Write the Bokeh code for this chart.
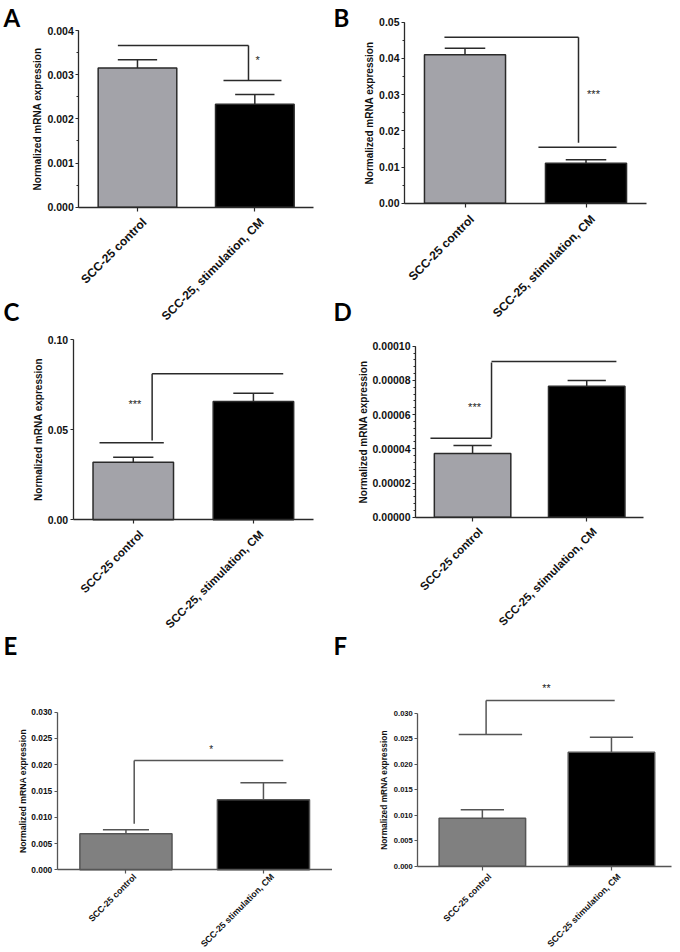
from math import pi
from bokeh.plotting import figure
from bokeh.models import Range1d, FixedTicker, PrintfTickFormatter
from bokeh.layouts import column, row
from bokeh.core.properties import value
from bokeh.embed import file_html
from bokeh.resources import INLINE

# ---------------- data ----------------
x_pos = [0.5, 1.5]
labels_abcd = ["SCC-25 control", "SCC-25, stimulation, CM"]
labels_ef = ["SCC-25 control", "SCC-25 stimulation, CM"]
y_title = "Normalized mRNA expression"

mean_A = [0.00315, 0.00233]
sem_A = [0.00019, 0.00022]
mean_B = [0.0410, 0.01105]
sem_B = [0.0018, 0.00095]
mean_C = [0.0320, 0.0657]
sem_C = [0.0028, 0.0046]
mean_D = [0.0000372, 0.0000766]
sem_D = [0.0000047, 0.0000033]
mean_E = [0.00688, 0.01332]
sem_E = [0.00072, 0.00323]
mean_F = [0.00941, 0.02235]
sem_F = [0.00165, 0.00295]

ticks_A = [0.000, 0.001, 0.002, 0.003, 0.004]
ticks_B = [0.00, 0.01, 0.02, 0.03, 0.04, 0.05]
ticks_C = [0.00, 0.05, 0.10]
ticks_D = [0.0, 0.00002, 0.00004, 0.00006, 0.00008, 0.00010]
ticks_E = [0.000, 0.005, 0.010, 0.015, 0.020, 0.025, 0.030]
ticks_F = [0.000, 0.005, 0.010, 0.015, 0.020, 0.025, 0.030]

# significance brackets: segments (x0, y0, x1, y1)
br_A = ([0.333, 1.446, 1.233], [0.00366, 0.00366, 0.00287],
        [1.446, 1.446, 1.727], [0.00366, 0.00287, 0.00287])
br_B = ([0.330, 1.438, 1.107], [0.04586, 0.04586, 0.01547],
        [1.438, 1.438, 1.752], [0.04586, 0.01668, 0.01547])
br_C = ([0.657, 0.657, 0.219], [0.0811, 0.0811, 0.0428],
        [1.748, 0.657, 0.754], [0.0811, 0.0440, 0.0428])
br_D = ([0.666, 0.666, 0.131], [0.0000910, 0.0000905, 0.0000462],
        [1.760, 0.666, 0.666], [0.0000910, 0.0000464, 0.0000462])
br_E = ([0.560, 0.560], [0.0208, 0.0208],
        [1.644, 0.560], [0.0208, 0.00875])
br_F = ([0.529, 0.529, 0.317], [0.0325, 0.0325, 0.0258],
        [1.525, 0.529, 0.808], [0.0325, 0.0258, 0.0258])

stars_A = ("*", 1.523, 0.00339)
stars_B = ("***", 1.562, 0.0309)
stars_C = ("***", 0.513, 0.0659)
stars_D = ("***", 0.517, 0.0000659)
stars_E = ("*", 1.120, 0.02346)
stars_F = ("**", 0.996, 0.0354)

# ---------------- styles ----------------
FONT = "Liberation Sans"
GRAY1 = "#a3a3a9"
GRAY2 = "#808080"


def make_panel(letters, labels, means, sems, ticks, minor_step, fmt, bracket, stars,
               w, h, frame, x_end, y_top, gray, ink, tick_fs, lab_fs, ylab_fs, star_fs, lab_off):
    # frame = pixel box (left, right, top, bottom) of the data area inside the figure
    L, R, T, B = frame
    ux = x_end / (R - L)
    uy = y_top / (B - T)
    xr = Range1d(-L * ux, x_end + (w - R) * ux)
    yr = Range1d(-(h - B) * uy, y_top + T * uy)
    p = figure(width=w, height=h, x_range=xr, y_range=yr,
               output_backend="svg", toolbar_location=None, title=None,
               min_border_left=0, min_border_right=0, min_border_top=0, min_border_bottom=0)
    p.outline_line_color = None
    p.grid.visible = False
    p.background_fill_color = "white"
    p.border_fill_color = "white"

    # bars + SEM
    p.vbar(x=x_pos, top=means, width=0.67, bottom=0, fill_color=[gray, "#000000"],
           line_color=ink, line_width=1.5)
    tops = [m + s for m, s in zip(means, sems)]
    p.segment(x0=x_pos, y0=means, x1=x_pos, y1=tops, line_color=ink, line_width=1.5)
    p.segment(x0=[x - 0.1675 for x in x_pos], y0=tops, x1=[x + 0.1675 for x in x_pos], y1=tops,
              line_color=ink, line_width=1.5)
    # significance bracket
    p.segment(x0=bracket[0], y0=bracket[1], x1=bracket[2], y1=bracket[3],
              line_color=ink, line_width=1.5)
    p.text(x=[stars[1]], y=[stars[2]], text=[stars[0]], text_align="center",
           text_baseline="middle", y_offset=2.5, text_font=value(FONT),
           text_font_size=value(star_fs), text_color="#222222")

    # y axis (drawn at x = 0)
    ya = p.yaxis[0]
    ya.fixed_location = 0
    minors = []
    if minor_step:
        n = int(round(ticks[-1] / minor_step))
        minors = [i * minor_step for i in range(n + 1)]
    ya.ticker = FixedTicker(ticks=ticks, minor_ticks=minors)
    ya.formatter = PrintfTickFormatter(format=fmt)
    ya.bounds = (0, ticks[-1])
    ya.axis_line_color = ink
    ya.axis_line_width = 1.3
    ya.major_tick_line_color = ink
    ya.minor_tick_line_color = ink
    ya.major_tick_line_width = 1.2
    ya.major_tick_out = 3
    ya.major_tick_in = 0
    ya.minor_tick_out = 2 if minor_step else 0
    ya.minor_tick_in = 0
    ya.major_label_standoff = 2
    ya.major_label_text_font = FONT
    ya.major_label_text_font_style = "bold"
    ya.major_label_text_font_size = tick_fs
    ya.major_label_text_color = "#111111"
    ya.axis_label = y_title
    ya.axis_label_standoff = 1
    ya.axis_label_text_font = FONT
    ya.axis_label_text_font_style = "bold"
    ya.axis_label_text_font_size = ylab_fs
    ya.axis_label_text_color = "#111111"

    # x axis (drawn at y = 0); tick marks at the bars, names drawn rotated
    xa = p.xaxis[0]
    xa.fixed_location = 0
    xa.ticker = FixedTicker(ticks=[], minor_ticks=x_pos)
    xa.bounds = (0, x_end)
    xa.axis_line_color = ink
    xa.axis_line_width = 1.3
    xa.minor_tick_line_color = ink
    xa.minor_tick_line_width = 1.2
    xa.minor_tick_out = 4
    xa.minor_tick_in = 0
    xa.major_tick_out = 0
    p.text(x=x_pos, y=[0, 0], text=labels, angle=pi / 4, x_offset=lab_off[0],
           y_offset=lab_off[1], text_align="right", text_baseline="middle",
           text_font=value(FONT), text_font_style="bold", text_font_size=value(lab_fs),
           text_color="#111111")

    # panel letters, centre offsets in pixels from the figure's top-left corner
    for let, fx, fy in letters:
        p.text(x=[xr.start], y=[yr.end], text=[let], x_offset=fx, y_offset=fy,
               text_align="left", text_baseline="middle", text_font=value("Lato"),
               text_font_style="bold", text_font_size=value("24px"), text_color="#000000")
    return p


pA = make_panel([("A", 3, 16.5), ("C", 3, 310.5)], labels_abcd, mean_A, sem_A, ticks_A, 0.0005, "%.3f",
                br_A, stars_A, 332, 324, (78.3, 313, 30, 206.7), 2.0, 0.004,
                GRAY1, "#2a2a2a", "10.5px", "12px", "10px", "11px", (7, 13))
pB = make_panel([("B", 1, 16.5), ("D", 1, 310.5)], labels_abcd, mean_B, sem_B, ticks_B, 0.005, "%.2f",
                br_B, stars_B, 348, 324, (72, 314, 21.7, 202.7), 2.0, 0.05,
                GRAY1, "#2a2a2a", "10.5px", "12px", "10px", "11px", (7, 14))
pC = make_panel([], labels_abcd, mean_C, sem_C, ticks_C, None, "%.2f",
                br_C, stars_C, 332, 308, (72.7, 313, 15.3, 195.3), 2.0, 0.10,
                GRAY1, "#2a2a2a", "10.5px", "11.5px", "10px", "11px", (8, 12.5))
pD = make_panel([], labels_abcd, mean_D, sem_D, ticks_D, 0.000004, "%.5f",
                br_D, stars_D, 348, 308, (83, 311.3, 21.7, 192.7), 2.0, 0.0001,
                GRAY1, "#2a2a2a", "10.5px", "11.5px", "10px", "11px", (8, 12.5))
pE = make_panel([("E", 3, 12.5)], labels_ef, mean_E, sem_E, ticks_E, None, "%.3f",
                br_E, stars_E, 332, 320, (56.7, 331.7, 79.7, 237.3), 2.0, 0.030,
                GRAY2, "#555555", "8.4px", "8.8px", "8.7px", "10px", (9, 5.5))
pF = make_panel([("F", 1, 12.5)], labels_ef, mean_F, sem_F, ticks_F, None, "%.3f",
                br_F, stars_F, 348, 320, (85.3, 339, 80.7, 233.7), 1.965, 0.030,
                GRAY2, "#555555", "7.6px", "8.8px", "8.4px", "10.5px", (7.5, 9))

layout = column(row(pA, pB), row(pC, pD), row(pE, pF))
open("out.html", "w").write(file_html(layout, INLINE))
